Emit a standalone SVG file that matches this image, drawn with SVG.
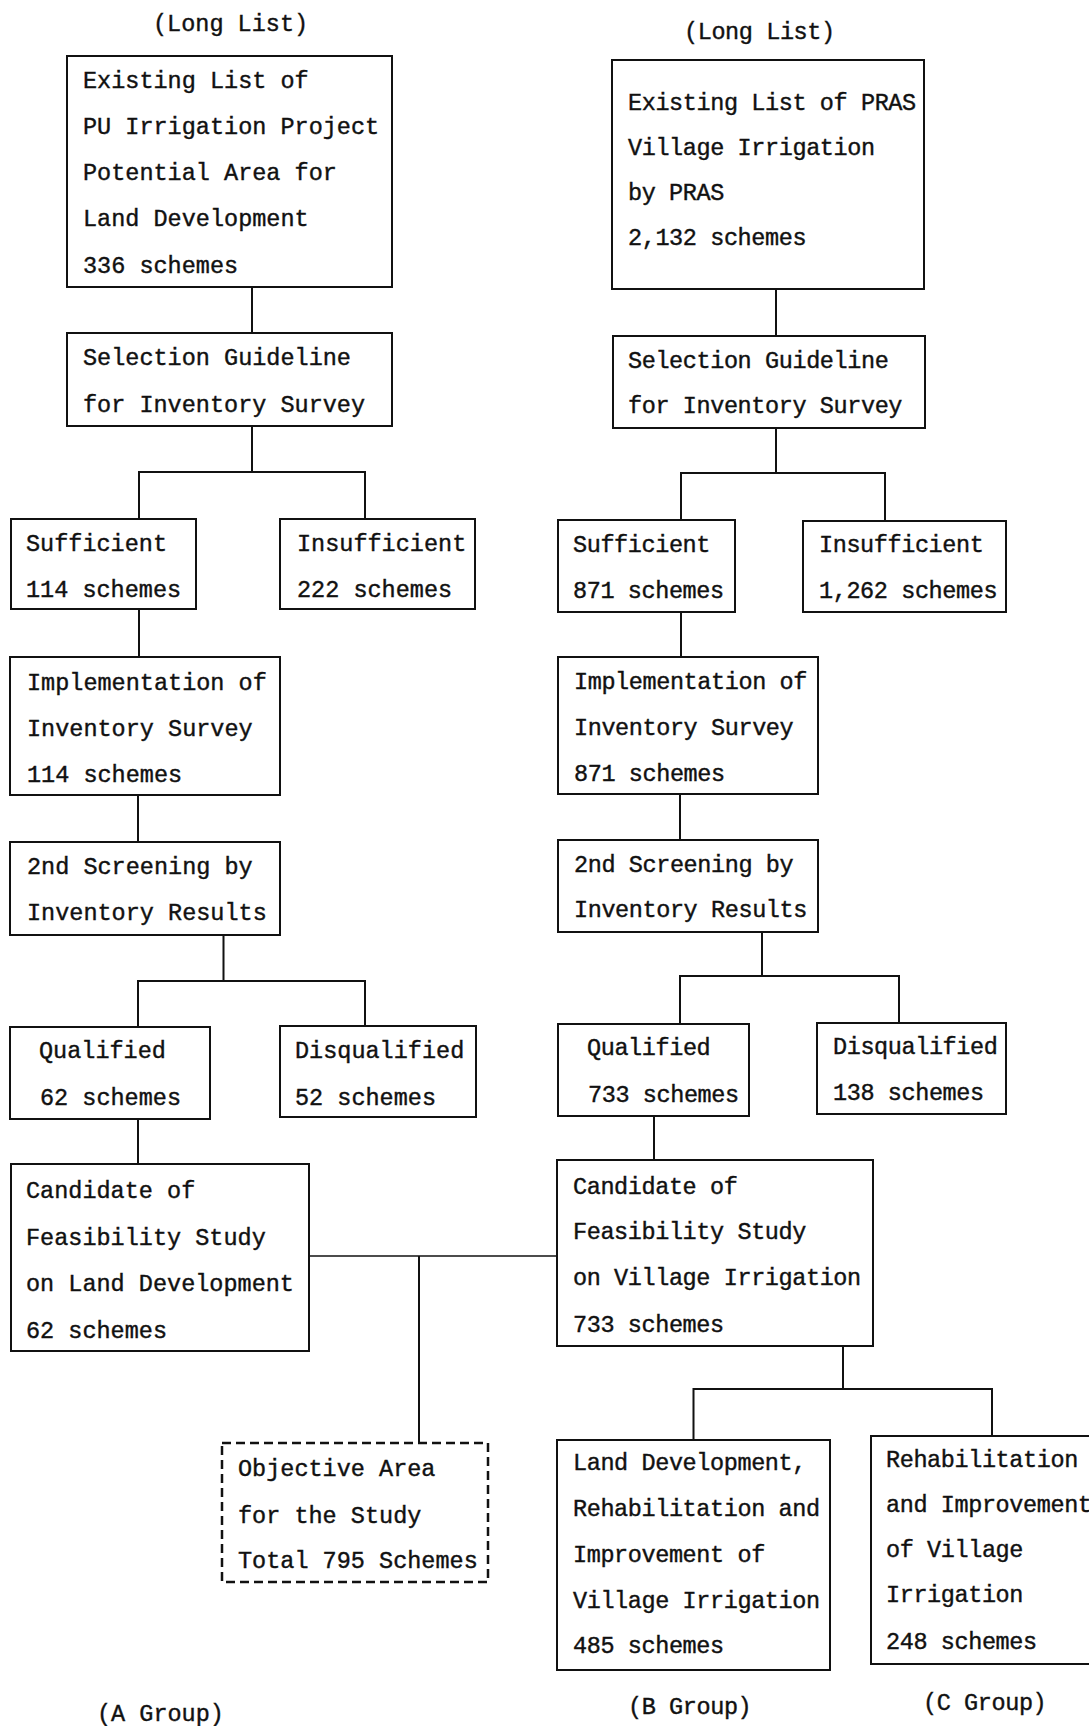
<svg xmlns="http://www.w3.org/2000/svg" width="1089" height="1726" viewBox="0 0 1089 1726">
<style>
.box{fill:none;stroke:#111;stroke-width:2}
.dash{fill:none;stroke:#111;stroke-width:2.5;stroke-dasharray:9 5}
.con{fill:none;stroke:#111;stroke-width:2}
text{font-family:"Liberation Mono",monospace;font-size:23.5px;fill:#111;stroke:#111;stroke-width:0.4}
.r text,text.r{letter-spacing:-0.4px}
</style>
<rect width="1089" height="1726" fill="#fff"/>
<g id="connectors">
<path class="con" d="M252 287V333M252 426V472M139 519V472H365V519"/>
<path class="con" d="M139 609V657M138 795V842M223.5 935V981M138 1027V981H365V1026M138 1119V1164"/>
<path class="con" d="M776 289V336M776 428V473M681 520V473H885V521"/>
<path class="con" d="M681 612V657M680 794V840M762 932V976M680 1024V976H899V1023M654 1116V1160"/>
<path class="con" style="stroke-width:1.6" d="M309 1256H557"/>
<path class="con" d="M419 1256V1443"/>
<path class="con" d="M843 1346V1389M693.5 1440V1389H992V1436"/>
</g>
<g id="labels">
<text x="153" y="31">(Long List)</text>
<text class="r" x="684" y="39">(Long List)</text>
<text x="97" y="1721">(A Group)</text>
<text class="r" x="628" y="1714">(B Group)</text>
<text class="r" x="923" y="1710">(C Group)</text>
</g>
<g id="a1"><rect class="box" x="67" y="56" width="325" height="231"/>
<text x="83" y="88">Existing List of</text><text x="83" y="134">PU Irrigation Project</text><text x="83" y="180">Potential Area for</text><text x="83" y="226">Land Development</text><text x="83" y="273">336 schemes</text></g>
<g id="a2"><rect class="box" x="67" y="333" width="325" height="93"/>
<text x="83" y="365">Selection Guideline</text><text x="83" y="412">for Inventory Survey</text></g>
<g id="a3"><rect class="box" x="11" y="519" width="185" height="90"/>
<text x="26" y="551">Sufficient</text><text x="26" y="597">114 schemes</text></g>
<g id="a4"><rect class="box" x="280" y="519" width="195" height="90"/>
<text x="297" y="551">Insufficient</text><text x="297" y="597">222 schemes</text></g>
<g id="a5"><rect class="box" x="10" y="657" width="270" height="138"/>
<text x="27" y="690">Implementation of</text><text x="27" y="736">Inventory Survey</text><text x="27" y="782">114 schemes</text></g>
<g id="a6"><rect class="box" x="10" y="842" width="270" height="93"/>
<text x="27" y="874">2nd Screening by</text><text x="27" y="920">Inventory Results</text></g>
<g id="a7"><rect class="box" x="10" y="1027" width="200" height="92"/>
<text x="39" y="1058">Qualified</text><text x="40" y="1105">62 schemes</text></g>
<g id="a8"><rect class="box" x="280" y="1026" width="196" height="91"/>
<text x="295" y="1058">Disqualified</text><text x="295" y="1105">52 schemes</text></g>
<g id="a9"><rect class="box" x="11" y="1164" width="298" height="187"/>
<text x="26" y="1198">Candidate of</text><text x="26" y="1245">Feasibility Study</text><text x="26" y="1291">on Land Development</text><text x="26" y="1338">62 schemes</text></g>
<g id="objective"><rect class="dash" x="222" y="1443" width="266" height="139"/>
<text x="238" y="1476">Objective Area</text><text x="238" y="1523">for the Study</text><text x="238" y="1568">Total 795 Schemes</text></g>
<g id="b1" class="r"><rect class="box" x="612" y="60" width="312" height="229"/>
<text x="628" y="110">Existing List of PRAS</text><text x="628" y="155">Village Irrigation</text><text x="628" y="200">by PRAS</text><text x="628" y="245">2,132 schemes</text></g>
<g id="b2" class="r"><rect class="box" x="613" y="336" width="312" height="92"/>
<text x="628" y="368">Selection Guideline</text><text x="628" y="413">for Inventory Survey</text></g>
<g id="b3" class="r"><rect class="box" x="558" y="520" width="177" height="92"/>
<text x="573" y="552">Sufficient</text><text x="573" y="598">871 schemes</text></g>
<g id="b4" class="r"><rect class="box" x="803" y="521" width="203" height="91"/>
<text x="819" y="552">Insufficient</text><text x="819" y="598">1,262 schemes</text></g>
<g id="b5" class="r"><rect class="box" x="558" y="657" width="260" height="137"/>
<text x="574" y="689">Implementation of</text><text x="574" y="735">Inventory Survey</text><text x="574" y="781">871 schemes</text></g>
<g id="b6" class="r"><rect class="box" x="558" y="840" width="260" height="92"/>
<text x="574" y="872">2nd Screening by</text><text x="574" y="917">Inventory Results</text></g>
<g id="b7" class="r"><rect class="box" x="558" y="1024" width="191" height="92"/>
<text x="587" y="1055">Qualified</text><text x="588" y="1102">733 schemes</text></g>
<g id="b8" class="r"><rect class="box" x="817" y="1023" width="189" height="91"/>
<text x="833" y="1054">Disqualified</text><text x="833" y="1100">138 schemes</text></g>
<g id="b9" class="r"><rect class="box" x="557" y="1160" width="316" height="186"/>
<text x="573" y="1194">Candidate of</text><text x="573" y="1239">Feasibility Study</text><text x="573" y="1285">on Village Irrigation</text><text x="573" y="1332">733 schemes</text></g>
<g id="b10" class="r"><rect class="box" x="557" y="1440" width="273" height="230"/>
<text x="573" y="1470">Land Development,</text><text x="573" y="1516">Rehabilitation and</text><text x="573" y="1562">Improvement of</text><text x="573" y="1608">Village Irrigation</text><text x="573" y="1653">485 schemes</text></g>
<g id="c1" class="r"><rect class="box" x="871" y="1436" width="230" height="228"/>
<text x="886" y="1467">Rehabilitation</text><text x="886" y="1512">and Improvement</text><text x="886" y="1557">of Village</text><text x="886" y="1602">Irrigation</text><text x="886" y="1649">248 schemes</text></g>
</svg>
